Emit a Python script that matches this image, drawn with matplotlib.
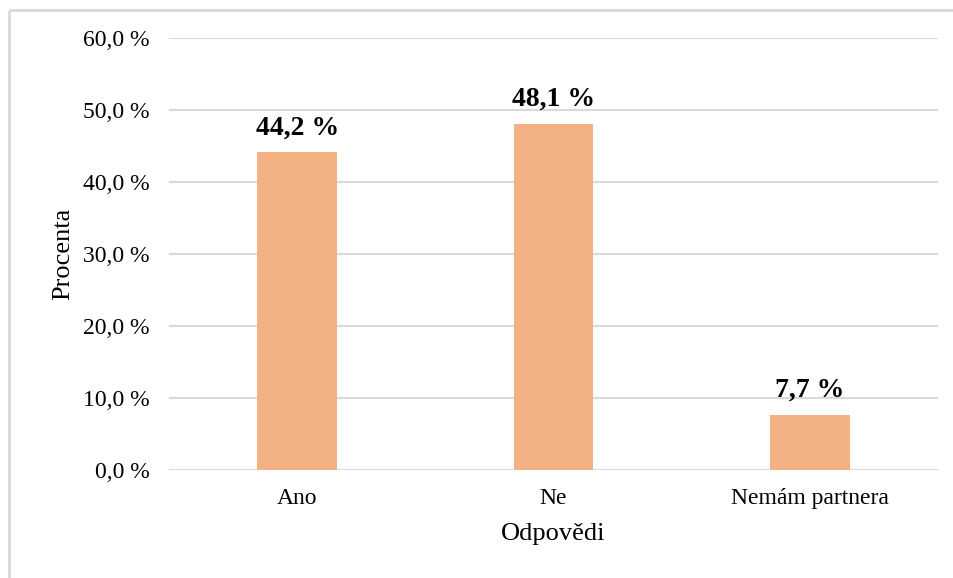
import matplotlib
matplotlib.use("Agg")
import matplotlib.pyplot as plt
from matplotlib.lines import Line2D

categories = ["Ano", "Ne", "Nemám partnera"]
values = [44.2, 48.1, 7.7]
yticks = [0, 10, 20, 30, 40, 50, 60]

plt.rcParams['font.family'] = ['Liberation Serif', 'DejaVu Serif']

fig = plt.figure(figsize=(9.54, 5.78), dpi=100)
fx, fy = 9.5/954, 1 - 9.5/578
fig.lines.append(Line2D([fx, fx], [-0.01, fy], transform=fig.transFigure, color='#D9D9D9',
                        linewidth=2, solid_capstyle='butt'))
fig.lines.append(Line2D([fx, 1.01], [fy, fy], transform=fig.transFigure, color='#D9D9D9',
                        linewidth=2, solid_capstyle='butt'))
ax = fig.add_axes([169/954, 1 - 470/578, (938 - 169)/954, (470 - 38)/578])

x = range(len(categories))
ax.bar(x, values, width=0.31, color='#F4B183', zorder=3)
ax.set_xlim(-0.5, 2.5)
ax.set_ylim(0, 60)
ax.set_yticks(yticks)
ax.set_yticklabels([f"{v:.1f} %".replace('.', ',') for v in yticks], fontsize=17)
ax.set_xticks(list(x))
ax.set_xticklabels(categories, fontsize=17)
ax.tick_params(axis='y', length=0, pad=14)
ax.tick_params(axis='x', length=0, pad=13)
ax.yaxis.grid(True, color='#D9D9D9', linewidth=1.5, zorder=0)
for s in ax.spines.values():
    s.set_visible(False)
for xi, v in zip(x, values):
    ax.text(xi, v + 1.6, f"{v:.1f} %".replace('.', ','), ha='center', va='bottom',
            fontsize=20, fontweight='bold')
ax.set_xlabel("Odpovědi", fontsize=19, labelpad=10)
ax.set_ylabel("Procenta", fontsize=19, labelpad=6)

fig.savefig("out.png", dpi=100)
